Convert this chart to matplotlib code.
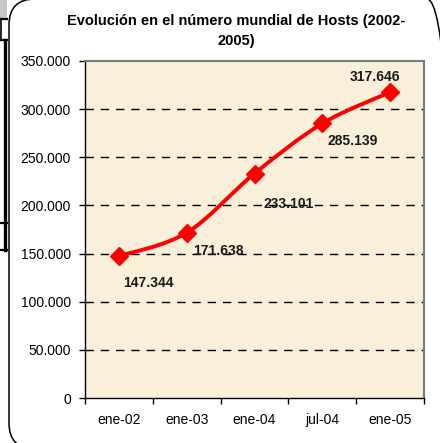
import matplotlib
matplotlib.use('Agg')
import matplotlib.pyplot as plt
from matplotlib.path import Path
from matplotlib.patches import PathPatch, FancyBboxPatch, Rectangle
from matplotlib.lines import Line2D
from matplotlib.transforms import IdentityTransform
import numpy as np

plt.rcParams['font.family'] = ['Liberation Sans', 'DejaVu Sans']

# ---- data ----
categories = ['ene-02', 'ene-03', 'ene-04', 'jul-04', 'ene-05']
hosts = [147344, 171638, 233101, 285139, 317646]
value_labels = ['147.344', '171.638', '233.101', '285.139', '317.646']
ytick_values = [0, 50000, 100000, 150000, 200000, 250000, 300000, 350000]
ytick_labels = ['0', '50.000', '100.000', '150.000', '200.000', '250.000', '300.000', '350.000']
title = 'Evolución en el número mundial de Hosts (2002-\n2005)'

# label offsets in pixels (layout only)
label_offsets = [(29, -27), (32, -18), (34, -30), (30, -18), (-15, 15)]

W, H = 440, 443
fig = plt.figure(figsize=(W / 100, H / 100), dpi=100)
fig.patch.set_facecolor('white')


def fx(x):
    return x / W


def fy(y):
    return 1 - y / H


# outer rounded frame, drawn in pixel coordinates (origin bottom-left)
frame = FancyBboxPatch((9, H - 449), 453 - 9, 449 + 1,
                       boxstyle='round,pad=0,rounding_size=26',
                       transform=IdentityTransform(), fill=False,
                       edgecolor='black', lw=1.1)
fig.add_artist(frame)

# left-edge artifacts from surrounding document
fig.add_artist(Rectangle((fx(0), fy(18)), fx(7), fy(0) - fy(18),
                         transform=fig.transFigure, facecolor='#C8C8C8', edgecolor='none'))
for yy in (19, 40, 223, 250):
    fig.add_artist(Line2D([fx(0), fx(7)], [fy(yy), fy(yy)], transform=fig.transFigure,
                          color='black', lw=1.6))
fig.add_artist(Line2D([fx(4.5), fx(4.5)], [fy(40), fy(250)], transform=fig.transFigure,
                      color='black', lw=2.4))
fig.add_artist(Line2D([fx(1), fx(1)], [fy(19), fy(40)], transform=fig.transFigure,
                      color='black', lw=1.2))

# axes
ax = fig.add_axes([fx(85), fy(398), (424 - 85) / W, (398 - 61) / H])
ax.set_facecolor('#FAF0DA')
x = np.arange(len(categories))
ax.set_xlim(-0.5, len(categories) - 0.5)
ax.set_ylim(ytick_values[0], ytick_values[-1])

# gridlines
for v in ytick_values[1:-1]:
    ax.axhline(v, color='black', lw=1.0, ls=(0, (6, 5)), zorder=1)

# smoothed line (Bezier through data points)
pts = list(zip(x, hosts))
verts = [pts[0]]
codes = [Path.MOVETO]
n = len(pts)
for i in range(n - 1):
    p0 = pts[i - 1] if i > 0 else pts[i]
    p1 = pts[i]
    p2 = pts[i + 1]
    p3 = pts[i + 2] if i + 2 < n else pts[i + 1]
    c1 = (p1[0] + (p2[0] - p0[0]) / 6, p1[1] + (p2[1] - p0[1]) / 6)
    c2 = (p2[0] - (p3[0] - p1[0]) / 6, p2[1] - (p3[1] - p1[1]) / 6)
    verts += [c1, c2, p2]
    codes += [Path.CURVE4] * 3
ax.add_patch(PathPatch(Path(verts, codes), fill=False, edgecolor='#FF0000', lw=2.8,
                       capstyle='round', joinstyle='round', zorder=3))
ax.plot(x, hosts, ls='none', marker='D', color='#FF0000', ms=9, zorder=4)

for xi, v, lab, off in zip(x, hosts, value_labels, label_offsets):
    ax.annotate(lab, (xi, v), xytext=off, textcoords='offset pixels',
                ha='center', va='center', fontsize=10, fontweight='bold', color='#1a1a1a',
                zorder=5)

# ticks
ax.set_yticks(ytick_values)
ax.set_yticklabels(ytick_labels)
ax.set_xticks(x)
ax.set_xticklabels(categories)
ax.set_xticks(np.arange(-0.5, len(categories)), minor=True)
ax.tick_params(axis='x', which='major', length=0, pad=11, labelsize=10)
ax.tick_params(axis='x', which='minor', length=4, width=1, direction='out')
ax.tick_params(axis='y', length=4, width=1, direction='out', pad=6, labelsize=10)

for s in ('left', 'bottom'):
    ax.spines[s].set_color('black')
    ax.spines[s].set_linewidth(1.0)
for s in ('top', 'right'):
    ax.spines[s].set_color('#7a7a7a')
    ax.spines[s].set_linewidth(1.5)

fig.text(fx(236), fy(31), title, ha='center', va='center', fontsize=10.5,
         fontweight='bold', linespacing=1.55)

fig.savefig('out.png', dpi=100, facecolor='white')
